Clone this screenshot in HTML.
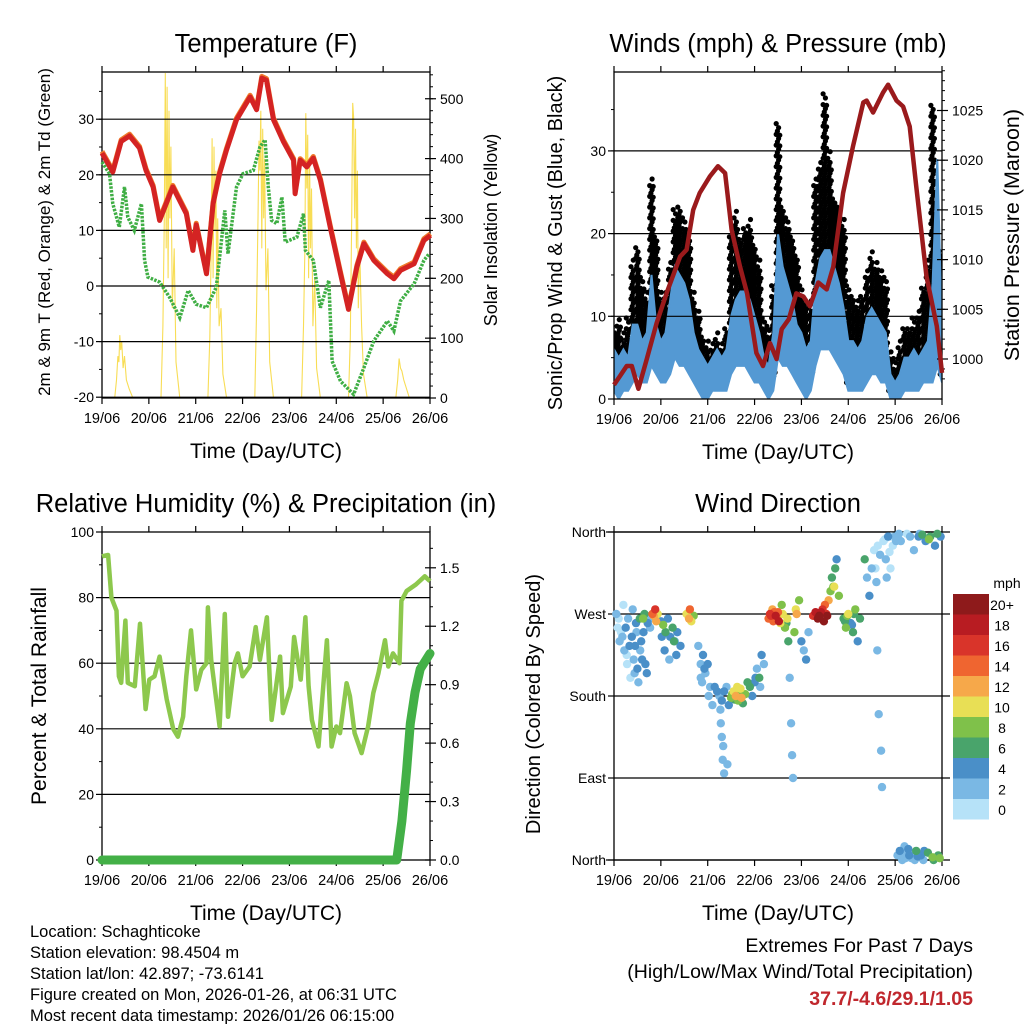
<!DOCTYPE html>
<html><head><meta charset="utf-8"><style>
html,body{margin:0;padding:0;background:#fff}
svg{display:block;font-family:"Liberation Sans",sans-serif}
</style></head><body>
<svg id="c" xmlns="http://www.w3.org/2000/svg" width="1024" height="1024" viewBox="0 0 1024 1024">
<defs><clipPath id="clip2"><rect x="614" y="72" width="328" height="327"/></clipPath></defs>
<rect width="1024" height="1024" fill="#fff"/>
<g id="info" font-size="16.5" fill="#000">
<text x="30" y="937">Location: Schaghticoke</text>
<text x="30" y="958">Station elevation: 98.4504 m</text>
<text x="30" y="979">Station lat/lon: 42.897; -73.6141</text>
<text x="30" y="1000">Figure created on Mon, 2026-01-26, at 06:31 UTC</text>
<text x="30" y="1021">Most recent data timestamp: 2026/01/26 06:15:00</text>
</g>
<g text-anchor="end">
<text x="973" y="952" font-size="19.5">Extremes For Past 7 Days</text>
<text x="973" y="978" font-size="19.5">(High/Low/Max Wind/Total Precipitation)</text>
<text x="973" y="1005" font-size="19.5" font-weight="bold" fill="#c0272d">37.7/-4.6/29.1/1.05</text>
</g>
</svg>
<script>
// ---------- data ----------
const dayLabels=['19/06','20/06','21/06','22/06','23/06','24/06','25/06','26/06'];
// Temperature (red)
const tempT=[0,0.23,0.41,0.59,0.8,0.94,1.09,1.23,1.51,1.8,1.94,2.01,2.23,2.37,2.51,2.66,2.87,3.16,3.3,3.41,3.51,3.66,3.87,4.09,4.12,4.23,4.37,4.51,4.66,4.87,5.09,5.26,5.44,5.59,5.8,6.09,6.23,6.37,6.66,6.87,7.01];
const tempV=[23.9,20.5,26,27,24.8,20.8,17.8,11.8,17.8,13,6.4,11,2.2,14.8,20.2,24.5,29.9,34,31.7,37.4,37,29.9,26,22.6,16.6,22.6,21.4,23,19,10.6,2.2,-4.2,3.4,7.6,4.6,2.2,1.3,2.8,4,8.2,9.1];
// Dewpoint (green)
const dewT=[0,0.16,0.23,0.37,0.48,0.55,0.69,0.84,0.91,0.98,1.23,1.44,1.66,1.84,2.01,2.23,2.44,2.62,2.69,2.87,3.01,3.23,3.37,3.48,3.55,3.62,3.73,3.84,3.91,4.16,4.3,4.34,4.51,4.66,4.84,4.91,5.09,5.37,5.59,5.8,6.09,6.23,6.37,6.66,6.87,6.98];
const dewV=[22.3,20.2,14.8,10.6,17.8,12.4,10,14.8,4.6,1.6,0.7,-2,-5.7,-0.8,-3.3,-3.9,-0.2,13.6,5.8,17.8,20.2,20.8,25,26.3,17.8,11.8,11.2,16,7.9,8.8,13,6.4,4.6,-3.9,1,-13.5,-17.1,-19.5,-14.7,-9.9,-6.3,-8.1,-2.7,0.4,4.6,5.8];
// Solar insolation (yellow)
const solarT=[0,0.27,0.31,0.34,0.36,0.38,0.4,0.42,0.45,0.48,0.52,0.58,0.66,
1.26,1.3,1.33,1.35,1.37,1.39,1.41,1.43,1.45,1.47,1.5,1.54,1.58,1.66,
2.26,2.3,2.33,2.35,2.37,2.39,2.41,2.43,2.45,2.47,2.5,2.54,2.58,2.66,
3.26,3.3,3.33,3.35,3.37,3.39,3.41,3.43,3.45,3.47,3.5,3.54,3.58,3.66,
4.26,4.3,4.33,4.35,4.37,4.39,4.41,4.43,4.45,4.47,4.5,4.54,4.58,4.66,
5.26,5.3,5.33,5.35,5.37,5.39,5.41,5.43,5.45,5.47,5.5,5.54,5.58,5.66,
6.27,6.31,6.34,6.37,6.4,6.44,6.5,6.56,7.0];
const solarV=[0,0,30,70,60,105,80,95,50,70,30,15,0,
0,120,300,543,250,520,200,480,300,420,150,250,60,0,
0,100,250,434,200,420,280,380,150,300,120,150,40,0,
0,150,300,430,380,480,250,450,300,400,180,250,60,0,
0,120,250,476,350,440,200,400,250,350,120,200,50,0,
0,100,300,493,470,300,450,250,380,150,250,120,40,0,
0,30,66,50,45,30,15,0,0];
// Winds (0.1 day steps)
const gustHi=[9,10,8,10,17,19,15,13,27,20,13,13,17,23,24,22,20,13,11,8,7,7,8,7,9,20,23,20,21,22,19,17,10,9,14,34,24,22,20,18,14,12,12,27,29,37,30,25,24,22,14,13,12,13,16,18,17,16,15,6,5,7,9,9,10,11,14,17,36,20,18];
const windHi=[6,5,6,5,9,9,7,8,15,9,7,8,12,16,15,14,12,8,6,5,4,5,6,5,6,10,12,13,13,12,10,8,5,4,8,20,16,14,12,9,8,6,7,14,17,18,18,16,14,11,7,7,6,7,10,11,10,9,8,3,2,3,5,5,6,5,6,7,14,29,8];
const windLo=[1,0,1,1,2,3,2,2,4,3,2,2,3,5,4,4,3,2,1,0,0,1,1,1,1,3,4,4,4,3,2,2,1,0,1,5,4,4,3,2,1,0,1,4,6,6,6,5,4,3,1,1,1,1,2,3,3,2,2,0,0,0,1,1,1,1,2,2,2,4,2];
// Pressure
const presT=[0,0.13,0.27,0.38,0.52,0.7,0.91,1.12,1.41,1.55,1.69,1.83,2.05,2.22,2.37,2.51,2.69,2.84,3.04,3.18,3.33,3.47,3.58,3.73,3.89,4.04,4.18,4.36,4.54,4.68,4.89,5.1,5.32,5.39,5.53,5.74,5.85,6.03,6.17,6.31,6.45,6.67,6.89,7.0];
const presV=[997.4,998.3,999.3,999.3,997,1000,1003.6,1006.6,1010.3,1011,1015,1016.7,1018.4,1019.4,1018.7,1013,1009.3,1006.6,1000.6,999.3,1001.6,1000,1003,1004,1006.6,1006.3,1005.3,1007.7,1007,1009.3,1016.7,1021.4,1025.8,1026,1024.8,1026.8,1027.6,1026,1025.4,1023.4,1017.4,1008.3,1003.3,998.6];
// Relative humidity
const rhT=[0,0.13,0.2,0.31,0.36,0.41,0.5,0.55,0.7,0.81,0.93,1.01,1.12,1.23,1.38,1.52,1.62,1.73,1.8,1.9,2.01,2.12,2.23,2.26,2.33,2.51,2.62,2.69,2.83,2.9,3.0,3.15,3.28,3.37,3.52,3.62,3.8,3.86,4.03,4.1,4.24,4.34,4.41,4.48,4.62,4.8,4.9,5.0,5.08,5.22,5.29,5.39,5.54,5.68,5.79,5.9,6.04,6.11,6.21,6.35,6.39,6.5,6.7,6.89,7.0];
const rhV=[92.6,93,80,76,56,54,73,54,53,72,46,55,56,62,49,40,37.6,43.7,56,70,52,58,60,77,61,40.7,75,43.7,60,63,56,59,71,61,74,42.7,62,44.8,52.9,68,55,74,53,42.7,34.6,67,34.6,40.7,38.7,53.9,50,38.7,32.6,40.7,50.9,57,67,59,63,60,79,82,84,86.5,85];
const rainT=[0,6.29,6.4,6.5,6.58,6.68,6.79,7.0];
const rainV=[0,0,0.2,0.46,0.7,0.86,0.98,1.06];
// Wind direction: day, degrees, speed (mph)
const dirDay=[0.05,0.1,0.12,0.15,0.2,0.22,0.25,0.28,0.3,0.35,0.38,0.4,0.42,0.45,0.48,0.5,0.52,0.55,0.58,0.6,0.62,0.65,0.7,0.72,0.75,0.82,0.85,0.88,0.9,0.93,1.0,1.05,1.1,1.15,1.2,1.25,1.3,1.35,1.55,1.6,1.62,1.65,1.7,1.8,1.85,1.9,1.95,2.0,2.05,2.1,2.15,2.2,2.25,2.3,2.3,2.32,2.35,2.35,2.4,2.45,2.5,2.55,2.6,2.65,2.7,2.75,2.8,2.9,2.95,3.0,3.05,3.1,3.15,3.2,3.3,3.33,3.38,3.4,3.45,3.5,3.55,3.58,3.65,3.7,3.72,3.75,3.78,3.8,3.82,3.85,3.9,3.95,4.0,4.05,4.1,4.15,4.25,4.3,4.35,4.4,4.45,4.5,4.55,4.58,4.62,4.65,4.7,4.72,4.75,4.8,4.9,4.95,5.0,5.05,5.1,5.15,5.2,5.25,5.35,5.4,5.45,5.5,5.55,5.6,5.62,5.65,5.7,5.72,5.75,5.8,5.85,5.9,5.95,6.0,6.05,6.1,6.12,6.15,6.2,6.25,6.3,6.35,6.4,6.45,6.5,6.55,6.6,6.65,6.7,6.75,6.8,6.85,6.9,6.95,
0.08,0.18,0.27,0.33,0.44,0.47,0.56,0.63,0.67,0.77,1.02,1.08,1.18,1.28,1.33,1.42,1.85,1.88,1.93,2.02,2.27,2.28,2.33,2.42,2.52,2.58,2.63,2.68,2.72,2.85,3.02,3.12,3.35,3.42,3.48,3.52,3.6,3.68,3.88,4.38,4.42,4.48,4.53,4.68,4.93,4.98,5.08,5.12,5.58,5.63,5.68,5.78,5.82,5.88,5.92,6.02,6.08,6.18,6.22,6.28,6.32,6.38,6.42,6.48,6.52,6.58,6.62,6.72,6.82,6.92,6.97];
const dirDeg=[270,265,240,250,280,230,255,215,265,200,245,275,220,235,250,210,195,265,240,220,265,270,205,260,265,270,268,275,262,270,262,258,250,265,245,255,240,250,270,265,275,262,268,235,200,225,205,215,190,170,190,185,180,175,135,110,95,185,190,170,178,185,180,175,188,172,182,190,180,195,210,200,225,215,265,270,275,262,268,272,260,280,255,265,240,200,150,115,90,250,270,285,240,230,220,250,268,272,265,270,275,280,268,285,295,310,300,320,330,290,265,255,270,260,250,275,240,265,330,310,290,320,340,305,230,160,120,80,350,330,355,320,345,355,5,10,350,0,15,358,5,2,340,10,355,5,0,350,8,355,3,345,358,2,
255,245,225,235,205,260,230,250,215,255,245,230,220,240,225,235,215,195,210,180,165,150,125,105,182,176,190,185,178,195,200,190,268,272,265,262,270,260,275,268,272,262,270,300,262,268,258,270,320,345,335,352,310,338,355,350,358,8,2,12,355,6,0,4,358,357,10,352,0,5,355];
const dirSpd=[2,0,2,1,0,2,4,1,2,0,4,2,2,4,2,4,2,6,4,4,8,6,4,4,2,14,12,16,12,10,4,8,6,4,4,6,2,4,10,12,14,10,8,2,2,4,2,4,2,2,4,4,2,4,2,2,2,4,2,4,8,10,12,8,10,6,8,6,4,4,2,6,4,2,14,16,12,14,18,14,10,8,8,10,6,2,2,2,2,8,12,8,4,2,4,2,16,18,20,18,16,14,20,12,8,6,10,6,4,8,6,8,10,4,6,8,4,6,6,2,4,2,0,2,2,2,2,2,0,2,4,0,0,2,2,4,2,2,2,0,4,2,2,6,4,4,2,4,6,6,8,4,6,8,
1,2,1,4,2,4,2,4,4,2,4,4,2,6,4,4,2,2,4,2,2,2,2,2,8,6,10,8,12,6,4,2,16,14,12,18,10,6,10,20,18,20,16,8,6,8,4,6,0,0,2,0,2,0,0,2,2,2,2,4,2,2,2,4,2,6,4,8,6,6,4];
const cbLabels=['20+','18','16','14','12','10','8','6','4','2','0'];
const cbColors=['#8e1a1b','#b81c22','#d9342a','#ef6530','#f6a84a','#e8df55','#7fc14a','#49a46b','#4a8fc8','#7ab8e4','#b6e2f8'];

// ---------- helpers ----------
const NS='http://www.w3.org/2000/svg';
const svg=document.getElementById('c');
function mk(tag,attrs,parent){const e=document.createElementNS(NS,tag);for(const k in attrs)e.setAttribute(k,attrs[k]);(parent||svg).appendChild(e);return e;}
function txt(x,y,s,size,anchor,parent,extra){const t=mk('text',Object.assign({x:x,y:y,'font-size':size,'text-anchor':anchor||'middle'},extra||{}),parent);t.textContent=s;return t;}
function line(x1,y1,x2,y2,col,w,parent){return mk('line',{x1:x1,y1:y1,x2:x2,y2:y2,stroke:col,'stroke-width':w},parent);}
function pathFrom(xs,ys,fx,fy){let d='';for(let i=0;i<xs.length;i++)d+=(i?'L':'M')+fx(xs[i]).toFixed(1)+','+fy(ys[i]).toFixed(1);return d;}

function panel(P,name){
  const g=mk('g',{});
  
  
  P.g=g;
  P.X=d=>P.x0+d*(P.x1-P.x0)/7;
  return g;
}
function frameAndAxes(P,o){
  const g=P.g;
  o.grid.forEach(v=>{const l=line(P.x0,o.fy(v),P.x1+(o.gridExt||0),o.fy(v),'#000',1.2,g);});
  const fr=mk('rect',{x:P.x0,y:P.y0,width:P.x1-P.x0,height:P.y1-P.y0,fill:'none',stroke:'#000','stroke-width':1.3},g);
  
  
  for(let i=0;i<8;i++){const x=P.X(i);
    line(x,P.y1,x,P.y1+6,'#000',1.2,g);line(x,P.y0,x,P.y0-6,'#000',1.2,g);
    const t=txt(x,P.y1+25,dayLabels[i],14.5,'middle',g);
    
    
  }
  const xt=txt((P.x0+P.x1)/2,P.y1+60,'Time (Day/UTC)',21,'middle',g);
  
  
  const tt=txt((P.x0+P.x1)/2,P.y0-20,o.title,25.5,'middle',g);
  
  
}
function leftTicks(P,vals,labels,fy,minor){
  vals.forEach((v,i)=>{const y=fy(v);line(P.x0-6,y,P.x0,y,'#000',1.2,P.g);
    const t=txt(P.x0-8,y+5,labels[i],14,'end',P.g);
    
    });
  (minor||[]).forEach(v=>line(P.x0-3,fy(v),P.x0,fy(v),'#000',1,P.g));
}
function rightTicks(P,vals,labels,fy,minor){
  vals.forEach((v,i)=>{const y=fy(v);line(P.x1-5,y,P.x1+6,y,'#000',1.2,P.g);
    const t=txt(P.x1+10,y+5,labels[i],14,'start',P.g);
    
    });
  (minor||[]).forEach(v=>line(P.x1,fy(v),P.x1+3,fy(v),'#000',1,P.g));
}
function vlabel(x,y,s,size,parent,name){const t=txt(x,y,s,size,'middle',parent,{transform:'rotate(-90 '+x+' '+y+')'});return t;}
function range(a,b,s){const r=[];for(let v=a;v<=b+1e-9;v+=s)r.push(+v.toFixed(4));return r;}

// ---------- Panel 1: Temperature ----------
const P1={x0:102,x1:430,y0:72,y1:398};
panel(P1,'temperature-panel');
const t1y=v=>286-v*5.56, s1y=v=>398-v*0.5985;
const sl=mk('path',{d:pathFrom(solarT,solarV,P1.X,s1y),fill:'none',stroke:'#f8dd55','stroke-width':1.1},P1.g);


frameAndAxes(P1,{grid:[-20,-10,0,10,20,30],fy:t1y,title:'Temperature (F)'});
leftTicks(P1,[-20,-10,0,10,20,30],['-20','-10','0','10','20','30'],t1y,range(-15,35,5));
rightTicks(P1,[0,100,200,300,400,500],['0','100','200','300','400','500'],s1y,range(20,540,20));
const dp=mk('path',{d:pathFrom(dewT,dewV,P1.X,t1y),fill:'none',stroke:'#3fae44','stroke-width':3.5,'stroke-dasharray':'2.5 1.3'},P1.g);


const to=mk('path',{d:pathFrom(tempT,tempV.map(v=>v+0.3),P1.X,t1y),fill:'none',stroke:'#ef7a2a','stroke-width':5,'stroke-linejoin':'round'},P1.g);


const tr=mk('path',{d:pathFrom(tempT,tempV,P1.X,t1y),fill:'none',stroke:'#d42323','stroke-width':5,'stroke-linejoin':'round'},P1.g);


vlabel(50,232,'2m & 9m T (Red, Orange) & 2m Td (Green)',17,P1.g,'y-axis-title');
vlabel(497,230,'Solar Insolation (Yellow)',18,P1.g,'y2-axis-title');

// ---------- Panel 2: Winds ----------
const P2={x0:614,x1:942,y0:72,y1:399};
panel(P2,'winds-panel');
const w2y=v=>399-v*8.27, p2y=v=>359-(v-1000)*9.94;
const step=(P2.x1-P2.x0)/70;
const wg=mk('g',{'clip-path':'url(#clip2)'},P2.g);


const dayIdx=gustHi.map((v,i)=>i/10);
gustHi.forEach((v,i)=>{
  const x=P2.X(dayIdx[i]);
  for(let j=0;j<4;j++){
    const xx=x+(j-1.5)*step/4;
    const lo=windLo[i]+1, hi=v-(j%2)*1.2;
    for(let s=lo+(j*0.4);s<=hi;s+=1.3){
      const c=mk('circle',{cx:xx.toFixed(1),cy:w2y(s).toFixed(1),r:2.6,fill:'#000'},wg);
      
      
    }
  }
});
let wd='';
windHi.forEach((v,i)=>{wd+=(i?'L':'M')+P2.X(dayIdx[i]).toFixed(1)+','+w2y(v).toFixed(1);});
for(let i=windLo.length-1;i>=0;i--){wd+='L'+P2.X(dayIdx[i]).toFixed(1)+','+w2y(windLo[i]).toFixed(1);}
const wa=mk('path',{d:wd+'Z',fill:'#5499d3',stroke:'#5499d3','stroke-width':2},wg);


frameAndAxes(P2,{grid:[10,20,30],fy:w2y,title:'Winds (mph) & Pressure (mb)'});
leftTicks(P2,[0,10,20,30],['0','10','20','30'],w2y,range(5,35,5));
rightTicks(P2,[1000,1005,1010,1015,1020,1025],['1000','1005','1010','1015','1020','1025'],p2y,range(998,1029,1));
const pp=mk('path',{d:pathFrom(presT,presV,P2.X,p2y),fill:'none',stroke:'#9a1a1c','stroke-width':4.5,'stroke-linejoin':'round'},P2.g);


vlabel(562,243,'Sonic/Prop Wind & Gust (Blue, Black)',20,P2.g,'y-axis-title');
vlabel(1019,235,'Station Pressure (Maroon)',21.5,P2.g,'y2-axis-title');

// ---------- Panel 3: RH & precip ----------
const P3={x0:102,x1:430,y0:532,y1:860};
panel(P3,'humidity-panel');
const r3y=v=>860-v*3.28, q3y=v=>860-v*194.8;
frameAndAxes(P3,{grid:[20,40,60,80],fy:r3y,title:'Relative Humidity (%) & Precipitation (in)'});
leftTicks(P3,[0,20,40,60,80,100],['0','20','40','60','80','100'],r3y,range(10,90,20));
rightTicks(P3,[0,0.3,0.6,0.9,1.2,1.5],['0.0','0.3','0.6','0.9','1.2','1.5'],q3y,[0.1,0.2,0.4,0.5,0.7,0.8,1.0,1.1,1.3,1.4,1.6]);
const rh=mk('path',{d:pathFrom(rhT,rhV,P3.X,r3y),fill:'none',stroke:'#8dc84d','stroke-width':4.5,'stroke-linejoin':'round'},P3.g);


const rn=mk('path',{d:pathFrom(rainT,rainV,P3.X,q3y),fill:'none',stroke:'#43b047','stroke-width':9,'stroke-linecap':'round','stroke-linejoin':'round'},P3.g);


vlabel(46,696,'Percent & Total Rainfall',21,P3.g,'y-axis-title');

// ---------- Panel 4: Wind direction ----------
const P4={x0:614,x1:942,y0:532,y1:860};
panel(P4,'wind-direction-panel');
const d4y=v=>860-v*(328/360);
frameAndAxes(P4,{grid:[90,180,270],fy:d4y,title:'Wind Direction',gridExt:8});
line(P4.x0-8,P4.y0,P4.x1+8,P4.y0,'#000',1.3,P4.g);line(P4.x0-8,P4.y1,P4.x1+8,P4.y1,'#000',1.3,P4.g);
leftTicks(P4,[0,90,180,270,360],['North','East','South','West','North'],d4y,[]);
function spdColor(s){const idx=Math.max(0,Math.min(10,10-Math.floor(s/2)));return cbColors[idx];}
const order=dirSpd.map((s,i)=>i).sort((a,b)=>dirSpd[a]-dirSpd[b]);
order.forEach(i=>{
  const c=mk('circle',{cx:P4.X(dirDay[i]).toFixed(1),cy:d4y(dirDeg[i]).toFixed(1),r:4.2,fill:spdColor(dirSpd[i])},P4.g);
  
  
});
vlabel(540,704,'Direction (Colored By Speed)',20,P4.g,'y-axis-title');
const cb=mk('g',{});


cbColors.forEach((col,i)=>{
  const r=mk('rect',{x:953,y:594+i*20.5,width:36,height:20.5,fill:col},cb);
  
  
  const t=txt(1002,594+i*20.5+16,cbLabels[i],14,'middle',cb);
  
  
});
const mph=txt(1007,588,'mph',14,'middle',cb);


</script>
</body></html>
